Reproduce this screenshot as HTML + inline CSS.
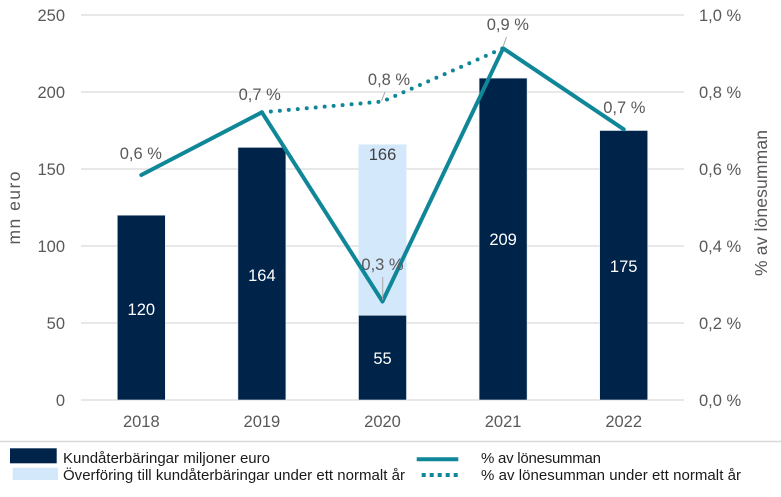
<!DOCTYPE html>
<html>
<head>
<meta charset="utf-8">
<style>
  html,body{margin:0;padding:0;background:#fff;}
  svg{display:block;}
  text{font-family:"Liberation Sans", Arial, sans-serif;}
</style>
</head>
<body>
<svg width="781" height="497" viewBox="0 0 781 497" xmlns="http://www.w3.org/2000/svg">
  <rect width="781" height="497" fill="#fff"/>
  <!-- gridlines -->
  <g stroke="#d9d9d9" stroke-width="1.3">
    <line x1="81" y1="15" x2="684" y2="15"/>
    <line x1="81" y1="92" x2="684" y2="92"/>
    <line x1="81" y1="169" x2="684" y2="169"/>
    <line x1="81" y1="246" x2="684" y2="246"/>
    <line x1="81" y1="323" x2="684" y2="323"/>
    <line x1="81" y1="400" x2="684" y2="400"/>
  </g>
  <!-- left ticks -->
  <g font-size="16.5" fill="#595959" text-anchor="end">
    <text x="65" y="21">250</text>
    <text x="65" y="98">200</text>
    <text x="65" y="175">150</text>
    <text x="65" y="252">100</text>
    <text x="65" y="329">50</text>
    <text x="65" y="406">0</text>
  </g>
  <!-- right ticks -->
  <g font-size="16.5" fill="#595959">
    <text x="699" y="21">1,0 %</text>
    <text x="699" y="98">0,8 %</text>
    <text x="699" y="175">0,6 %</text>
    <text x="699" y="252">0,4 %</text>
    <text x="699" y="329">0,2 %</text>
    <text x="699" y="406">0,0 %</text>
  </g>
  <!-- axis titles -->
  <text transform="translate(20,208) rotate(-90)" font-size="17.5" fill="#595959" text-anchor="middle" textLength="73" lengthAdjust="spacing">mn euro</text>
  <text transform="translate(767,203) rotate(-90)" font-size="17.5" fill="#595959" text-anchor="middle" textLength="146" lengthAdjust="spacing">% av lönesumman</text>

  <!-- bars -->
  <g stroke="#e6ebf0" stroke-width="0.6">
    <rect x="117.3" y="215.2" width="48" height="184.8" fill="#00234a"/>
    <rect x="237.9" y="147.4" width="48" height="252.6" fill="#00234a"/>
    <rect x="358.5" y="144.4" width="48" height="170.9" fill="#d4e8fb" stroke="none"/>
    <rect x="358.5" y="315.3" width="48" height="84.7" fill="#00234a"/>
    <rect x="479.1" y="78.1" width="48" height="321.9" fill="#00234a"/>
    <rect x="599.7" y="130.5" width="48" height="269.5" fill="#00234a"/>
  </g>
  <!-- bar labels -->
  <g font-size="16.5" fill="#ffffff" text-anchor="middle">
    <text x="141.3" y="315">120</text>
    <text x="261.9" y="281">164</text>
    <text x="382.5" y="364">55</text>
    <text x="503.1" y="245">209</text>
    <text x="623.7" y="272">175</text>
  </g>
  <text x="382.5" y="160" font-size="16.5" fill="#404040" text-anchor="middle">166</text>

  <!-- lines -->
  <polyline points="261.9,112.3 382.5,101.5 503.1,48.3" fill="none" stroke="#0f8798" stroke-width="4" stroke-linecap="round" stroke-dasharray="0 9"/>
  <polyline points="141.3,175 261.9,112.3 382.5,301.5 503.1,48.3 623.7,129.3" fill="none" stroke="#0f8798" stroke-width="4" stroke-linejoin="round" stroke-linecap="round"/>

  <!-- leader lines -->
  <g stroke="#a6a6a6" stroke-width="1">
    <line x1="385" y1="92" x2="381.5" y2="101"/>
    <line x1="506.5" y1="37" x2="503" y2="47"/>
    <line x1="382.7" y1="277" x2="382.7" y2="300"/>
  </g>

  <!-- pct labels -->
  <g font-size="16.5" fill="#595959" text-anchor="middle">
    <text x="140.8" y="159">0,6 %</text>
    <text x="259.7" y="100">0,7 %</text>
    <text x="389" y="85">0,8 %</text>
    <text x="507.8" y="30">0,9 %</text>
    <text x="624.3" y="113">0,7 %</text>
    <text x="382.5" y="270">0,3 %</text>
  </g>

  <!-- x labels -->
  <g font-size="16.5" fill="#595959" text-anchor="middle">
    <text x="141.3" y="427">2018</text>
    <text x="261.9" y="427">2019</text>
    <text x="382.5" y="427">2020</text>
    <text x="503.1" y="427">2021</text>
    <text x="623.7" y="427">2022</text>
  </g>

  <!-- legend -->
  <line x1="0" y1="441.5" x2="781" y2="441.5" stroke="#d9d9d9" stroke-width="1.5"/>
  <rect x="10" y="448.3" width="46.7" height="15" fill="#00234a"/>
  <rect x="12.7" y="467.7" width="45.3" height="12.3" fill="#d4e8fb"/>
  <g font-size="15" fill="#1a1a1a">
    <text x="63" y="463" textLength="207" lengthAdjust="spacing">Kundåterbäringar miljoner euro</text>
    <text x="63" y="480" textLength="342" lengthAdjust="spacing">Överföring till kundåterbäringar under ett normalt år</text>
    <text x="481" y="463" textLength="120" lengthAdjust="spacing">% av lönesumman</text>
    <text x="481" y="480" textLength="260" lengthAdjust="spacing">% av lönesumman  under ett normalt år</text>
  </g>
  <line x1="416.7" y1="459.3" x2="458.3" y2="459.3" stroke="#0f8798" stroke-width="4"/>
  <line x1="421.7" y1="475" x2="460" y2="475" stroke="#0f8798" stroke-width="4" stroke-dasharray="4 4"/>
</svg>
</body>
</html>
